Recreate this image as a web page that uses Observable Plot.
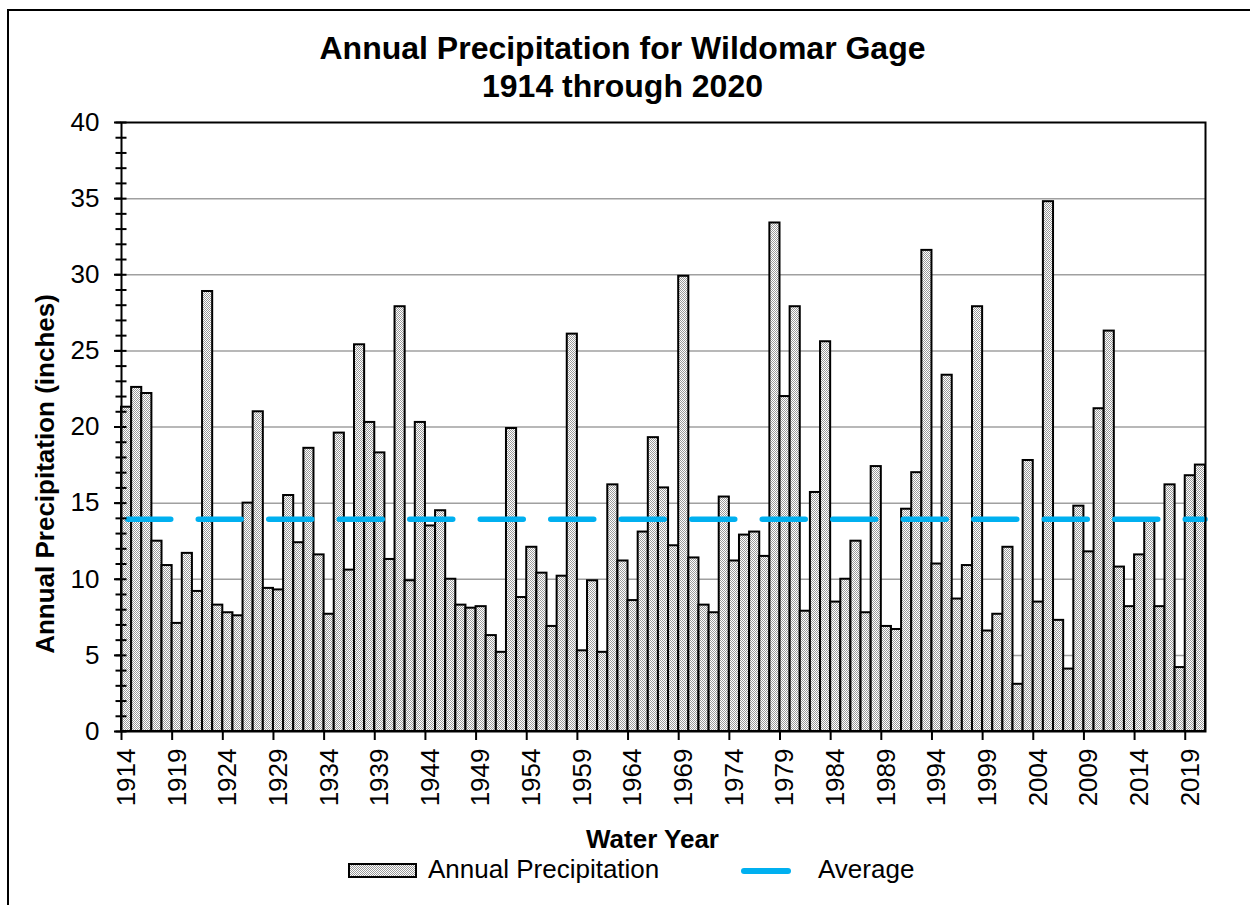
<!DOCTYPE html>
<html>
<head>
<meta charset="utf-8">
<script src="https://cdn.jsdelivr.net/npm/d3@7"></script>
<script src="https://cdn.jsdelivr.net/npm/@observablehq/plot@0.6"></script>
<style>
  html, body { margin: 0; padding: 0; background: #fff; overflow: hidden; }
  #wrap { position: relative; width: 1250px; height: 905px; font-family: "Liberation Sans", Arial, sans-serif; color: #000; }
  #chart { position: absolute; left: 0; top: 0; }
  #border { position: absolute; left: 7px; top: 9px; width: 1400px; height: 1200px; border-left: 2px solid #000; border-top: 2px solid #000; pointer-events: none; }
  .t { position: absolute; line-height: 1; white-space: nowrap; }
  .title { left: 0; width: 1245px; text-align: center; font-size: 32px; font-weight: bold; }
  .axlab { font-size: 26px; font-weight: bold; }
  .leg { font-size: 26px; }
  #ylab { left: 45px; top: 474px; transform: translate(-50%, -50%) rotate(-90deg); }
  #xlab { left: 0; width: 1305px; text-align: center; top: 826px; }
  #swatch { position: absolute; left: 348px; top: 863px; width: 69px; height: 15px; box-sizing: border-box; border: 2px solid #000;
    background-color: #fff; background-image: repeating-conic-gradient(#9a9a9a 0 25%, #fff 0 50%); background-size: 2px 2px; }
  #avgline { position: absolute; left: 741px; top: 868px; width: 50px; height: 6px; border-radius: 3px; background: #00b0f0; }
</style>
</head>
<body>
<div id="wrap">
  <div id="chart"></div>
  <div id="border"></div>
  <div class="t title" style="top:32px">Annual Precipitation for Wildomar Gage</div>
  <div class="t title" style="top:70px">1914 through 2020</div>
  <div class="t axlab" id="ylab">Annual Precipitation (inches)</div>
  <div class="t axlab" id="xlab">Water Year</div>
  <div id="swatch"></div>
  <div class="t leg" style="left:428px; top:856px">Annual Precipitation</div>
  <div id="avgline"></div>
  <div class="t leg" style="left:818px; top:856px">Average</div>
</div>
<script>
// Water years (categories)
const years = [
  1914,1915,1916,1917,1918,1919,1920,1921,1922,1923,
  1924,1925,1926,1927,1928,1929,1930,1931,1932,1933,
  1934,1935,1936,1937,1938,1939,1940,1941,1942,1943,
  1944,1945,1946,1947,1948,1949,1950,1951,1952,1953,
  1954,1955,1956,1957,1958,1959,1960,1961,1962,1963,
  1964,1965,1966,1967,1968,1969,1970,1971,1972,1973,
  1974,1975,1976,1977,1978,1979,1980,1981,1982,1983,
  1984,1985,1986,1987,1988,1989,1990,1991,1992,1993,
  1994,1995,1996,1997,1998,1999,2000,2001,2002,2003,
  2004,2005,2006,2007,2008,2009,2010,2011,2012,2013,
  2014,2015,2016,2017,2018,2019,2020
];
// Annual precipitation (inches)
const precipitation = [
  21.3,22.6,22.2,12.5,10.9,7.1,11.7,9.2,28.9,8.3,
  7.8,7.6,15.0,21.0,9.4,9.3,15.5,12.4,18.6,11.6,
  7.7,19.6,10.6,25.4,20.3,18.3,11.3,27.9,9.9,20.3,
  13.5,14.5,10.0,8.3,8.1,8.2,6.3,5.2,19.9,8.8,
  12.1,10.4,6.9,10.2,26.1,5.3,9.9,5.2,16.2,11.2,
  8.6,13.1,19.3,16.0,12.2,29.9,11.4,8.3,7.8,15.4,
  11.2,12.9,13.1,11.5,33.4,22.0,27.9,7.9,15.7,25.6,
  8.5,10.0,12.5,7.8,17.4,6.9,6.7,14.6,17.0,31.6,
  11.0,23.4,8.7,10.9,27.9,6.6,7.7,12.1,3.1,17.8,
  8.5,34.8,7.3,4.1,14.8,11.8,21.2,26.3,10.8,8.2,
  11.6,13.8,8.2,16.2,4.2,16.8,17.5
];
const averageInches = [13.94];
const tickYears = [1914,1919,1924,1929,1934,1939,1944,1949,1954,1959,1964,1969,1974,1979,1984,1989,1994,1999,2004,2009,2014,2019];
const yMajorTicks = [0,5,10,15,20,25,30,35,40];
const yMinorTicks = [0,1,2,3,4,5,6,7,8,9,10,11,12,13,14,15,16,17,18,19,20,21,22,23,24,25,26,27,28,29,30,31,32,33,34,35,36,37,38,39,40];
const gridValues = [5,10,15,20,25,30,35];

const data = years.map((year, i) => ({year, yearEnd: year + 1, value: precipitation[i]}));

const chart = Plot.plot({
  width: 1250,
  height: 905,
  marginLeft: 121,
  marginRight: 45,
  marginTop: 122,
  marginBottom: 174,
  style: {fontFamily: '"Liberation Sans", Arial, sans-serif', fontSize: "26px", color: "black", background: "transparent"},
  x: {domain: [1914, 2021]},
  y: {domain: [0, 40]},
  marks: [
    Plot.gridY(gridValues, {stroke: "#a0a0a0", strokeOpacity: 1, strokeWidth: 1.5}),
    Plot.rect(data, {x1: "year", x2: "yearEnd", y1: d => 0, y2: "value", fill: "url(#stipple)", stroke: "black", strokeWidth: 2}),
    Plot.ruleY(averageInches, {stroke: "#00b0f0", strokeWidth: 5.5, strokeDasharray: "43 27.5", strokeDashoffset: 63.75, strokeLinecap: "round"}),
    Plot.frame({stroke: "black", strokeWidth: 2}),
    Plot.axisY(yMinorTicks, {tickSize: 11, dx: 5.5, tickFormat: () => "", strokeWidth: 2, label: null}),
    Plot.axisY(yMajorTicks, {tickSize: 7, tickPadding: 15, fontSize: 26, strokeWidth: 2, label: null}),
    Plot.axisX(tickYears, {tickSize: 9, tickFormat: () => "", strokeWidth: 2, label: null}),
    Plot.text(tickYears, {x: d => d + 0.5, frameAnchor: "bottom", text: d => String(d), rotate: -90, textAnchor: "end", lineAnchor: "middle", dy: 17, fontSize: 26})
  ]
});

const ns = "http://www.w3.org/2000/svg";
const defs = document.createElementNS(ns, "defs");
const pattern = document.createElementNS(ns, "pattern");
pattern.setAttribute("id", "stipple");
pattern.setAttribute("patternUnits", "userSpaceOnUse");
pattern.setAttribute("width", "2");
pattern.setAttribute("height", "2");
[["0","0","2","2","#ffffff"],["0","0","1","1","#9a9a9a"],["1","1","1","1","#9a9a9a"]].forEach(([x,y,w,h,f]) => {
  const r = document.createElementNS(ns, "rect");
  r.setAttribute("x", x); r.setAttribute("y", y); r.setAttribute("width", w); r.setAttribute("height", h); r.setAttribute("fill", f);
  pattern.appendChild(r);
});
defs.appendChild(pattern);
chart.insertBefore(defs, chart.firstChild);

document.getElementById("chart").appendChild(chart);
</script>
</body>
</html>
